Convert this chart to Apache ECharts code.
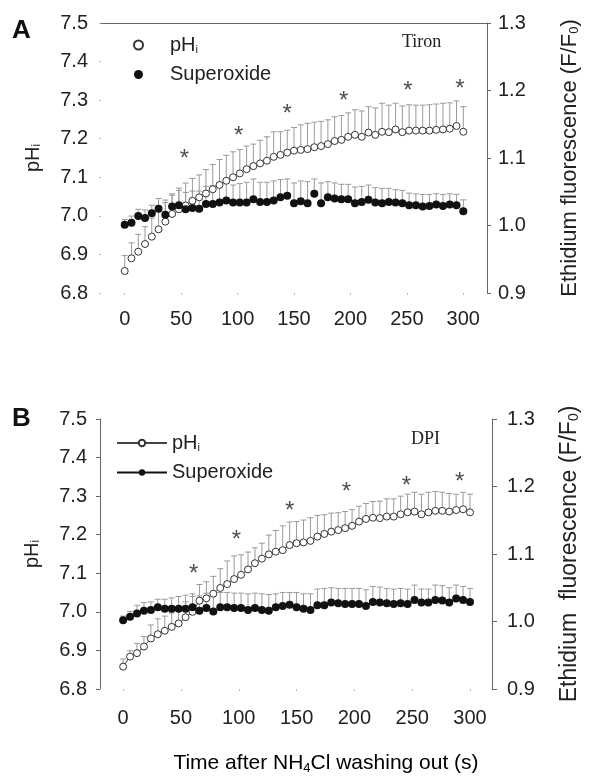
<!DOCTYPE html>
<html><head><meta charset="utf-8">
<script src="https://cdn.jsdelivr.net/npm/echarts@6/dist/echarts.min.js"></script>
<style>html,body{margin:0;padding:0;background:#fff}#c{width:589px;height:778px}</style>
</head><body><div id="c"></div>
<script>
// ---- data ----
const time = [0,6,12,18,24,30,36,42,48,54,60,66,72,78,84,90,96,102,108,114,120,126,132,138,144,150,156,162,168,174,180,186,192,198,204,210,216,222,228,234,240,246,252,258,264,270,276,282,288,294,300];
const xTicks = [0,50,100,150,200,250,300];
// Panel A (Tiron)
const phA = [6.857,6.890,6.907,6.927,6.946,6.965,6.985,7.005,7.017,7.027,7.039,7.048,7.058,7.069,7.080,7.091,7.100,7.110,7.121,7.129,7.136,7.143,7.153,7.158,7.164,7.169,7.171,7.173,7.178,7.181,7.186,7.194,7.197,7.205,7.210,7.205,7.216,7.210,7.218,7.217,7.224,7.217,7.221,7.221,7.221,7.221,7.223,7.224,7.226,7.233,7.218];
const phErrA = [0.040,0.040,0.045,0.045,0.048,0.050,0.056,0.052,0.055,0.058,0.058,0.058,0.062,0.064,0.066,0.066,0.066,0.062,0.060,0.057,0.060,0.062,0.065,0.060,0.058,0.060,0.065,0.067,0.065,0.064,0.063,0.063,0.063,0.062,0.065,0.067,0.067,0.070,0.074,0.070,0.068,0.068,0.067,0.066,0.066,0.067,0.067,0.068,0.067,0.065,0.065];
const supA = [1.001,1.004,1.014,1.011,1.018,1.025,1.016,1.028,1.030,1.024,1.026,1.025,1.032,1.032,1.034,1.037,1.034,1.034,1.034,1.039,1.035,1.035,1.037,1.042,1.044,1.033,1.036,1.033,1.047,1.033,1.042,1.040,1.039,1.039,1.033,1.035,1.038,1.034,1.033,1.035,1.034,1.033,1.030,1.030,1.028,1.029,1.031,1.029,1.031,1.030,1.021];
const supErrA = [0.008,0.010,0.010,0.012,0.012,0.015,0.018,0.017,0.022,0.025,0.025,0.026,0.026,0.027,0.027,0.028,0.026,0.028,0.030,0.030,0.029,0.029,0.029,0.026,0.025,0.030,0.030,0.032,0.022,0.030,0.023,0.023,0.022,0.022,0.024,0.023,0.022,0.022,0.022,0.020,0.019,0.019,0.018,0.017,0.018,0.017,0.016,0.017,0.016,0.016,0.017];
const starA = [[53,7.160],[101,7.220],[144,7.276],[194,7.309],[251,7.335],[297,7.342]];
// Panel B (DPI)
const phB = [6.858,6.884,6.893,6.910,6.931,6.942,6.951,6.961,6.970,6.986,7.000,7.029,7.035,7.047,7.062,7.072,7.085,7.096,7.110,7.126,7.138,7.149,7.156,7.160,7.173,7.178,7.180,7.184,7.195,7.202,7.208,7.212,7.217,7.223,7.234,7.241,7.244,7.243,7.247,7.247,7.253,7.258,7.260,7.253,7.258,7.262,7.262,7.260,7.264,7.266,7.258];
const phErrB = [0.020,0.015,0.025,0.026,0.035,0.040,0.038,0.036,0.038,0.040,0.040,0.042,0.043,0.045,0.050,0.060,0.060,0.052,0.045,0.040,0.040,0.050,0.055,0.063,0.060,0.056,0.058,0.060,0.055,0.050,0.048,0.045,0.043,0.042,0.040,0.040,0.042,0.044,0.046,0.046,0.047,0.047,0.050,0.052,0.052,0.050,0.048,0.047,0.041,0.044,0.047];
const supB = [1.002,1.007,1.012,1.016,1.017,1.021,1.019,1.019,1.019,1.019,1.021,1.016,1.020,1.015,1.021,1.021,1.020,1.020,1.017,1.020,1.017,1.016,1.021,1.023,1.025,1.021,1.019,1.017,1.024,1.024,1.028,1.027,1.026,1.026,1.026,1.023,1.029,1.028,1.027,1.026,1.027,1.026,1.032,1.028,1.028,1.032,1.031,1.028,1.034,1.032,1.029];
const supErrB = [0.006,0.008,0.012,0.012,0.012,0.012,0.014,0.016,0.018,0.020,0.020,0.022,0.022,0.024,0.022,0.022,0.022,0.022,0.024,0.022,0.024,0.024,0.020,0.020,0.018,0.022,0.022,0.024,0.024,0.025,0.022,0.022,0.023,0.023,0.023,0.024,0.023,0.023,0.022,0.022,0.022,0.022,0.022,0.020,0.020,0.022,0.022,0.022,0.020,0.020,0.020];
const starB = [[61,7.109],[98,7.199],[144,7.273],[193,7.322],[245,7.339],[291,7.348]];

// ---- chart ----
const FONT = 'Liberation Sans, Arial, sans-serif';
const zip = (ys, es) => time.map((t, i) => es ? [t, ys[i], es[i]] : [t, ys[i]]);
function errBar(params, api) {
  const x = api.value(0), y = api.value(1), e = api.value(2);
  const p0 = api.coord([x, y]), p1 = api.coord([x, y + e]);
  const st = {stroke: '#9a9a9a', lineWidth: 1};
  return {type: 'group', children: [
    {type: 'line', shape: {x1: p0[0], y1: p0[1], x2: p1[0], y2: p1[1]}, style: st},
    {type: 'line', shape: {x1: p1[0] - 3, y1: p1[1], x2: p1[0] + 3, y2: p1[1]}, style: st}
  ]};
}
const f1 = v => v.toFixed(1);
function richName(fs) {
  return {
    a: {fontSize: fs, fontFamily: FONT, color: '#222'},
    s: {fontSize: Math.round(fs * 0.6), fontFamily: FONT, color: '#222', verticalAlign: 'bottom', padding: [8, 0, 0, 0]}
  };
}
function xAx(gi, min, max, margin) {
  return {gridIndex: gi, type: 'value', min, max, position: 'bottom',
    axisLine: {show: false, onZero: false}, splitLine: {show: false},
    axisTick: {show: true, customValues: xTicks, length: 2, lineStyle: {color: '#bbb'}},
    axisLabel: {customValues: xTicks, fontSize: 20, fontFamily: FONT, color: '#222', margin}};
}
function yAx(gi, side, min, max, showLine, name, nameGap, labelMargin, tickColor, tickLen, nfs) {
  return {gridIndex: gi, type: 'value', position: side, min, max, interval: 0.1,
    axisLine: {show: showLine, onZero: false, lineStyle: {color: '#666', width: 1}},
    axisTick: {show: true, length: tickLen, lineStyle: {color: tickColor}},
    splitLine: {show: false},
    axisLabel: {formatter: f1, fontSize: 20, fontFamily: FONT, color: '#222', margin: labelMargin},
    name, nameLocation: 'middle', nameRotate: 90, nameGap,
    nameTextStyle: {rich: richName(nfs)}};
}
const legendRich = {rich: {a: {fontSize: 20, fontFamily: FONT, color: '#222'}, s: {fontSize: 11, fontFamily: FONT, color: '#222', verticalAlign: 'bottom', padding: [10, 0, 0, 0]}}};
const legFmt = n => n.indexOf('pH') === 0 ? '{a|pH}{s|i}' : '{a|Superoxide}';

const openStyle = {color: '#fff', borderColor: '#333', borderWidth: 1, opacity: 1};
const fillStyle = {color: '#111', opacity: 1};
const starLabel = {show: true, formatter: '*', position: 'inside', fontSize: 24, fontFamily: FONT, color: '#222', offset: [0, 5]};

const option = {
  animation: false,
  grid: [
    {left: 101, top: 23, width: 386, height: 270},
    {left: 100, top: 419, width: 395, height: 270}
  ],
  xAxis: [
    xAx(0, -21, 321, 16),
    {gridIndex: 0, type: 'value', min: -21, max: 321, position: 'top',
      axisLine: {show: true, onZero: false, lineStyle: {color: '#666'}}, axisTick: {show: false}, axisLabel: {show: false}, splitLine: {show: false}},
    xAx(1, -20, 319, 19)
  ],
  yAxis: [
    yAx(0, 'left', 6.8, 7.5, false, '{a|pH}{s|i}', 58, 13, '#bbb', 2, 20),
    yAx(0, 'right', 0.9, 1.3, true, '{a|Ethidium fluorescence (F/F}{s|0}{a|)}', 72, 11, '#666', 4, 22),
    yAx(1, 'left', 6.8, 7.5, true, '{a|pH}{s|i}', 58, 13, '#666', 4, 20),
    yAx(1, 'right', 0.9, 1.3, true, '{a|Ethidium  fluorescence (F/F}{s|0}{a|)}', 66, 15, '#666', 5, 23)
  ],
  legend: [
    {left: 128, top: 30, orient: 'vertical', itemGap: 9, itemWidth: 9, itemHeight: 9,
      data: [{name: 'pHi A', icon: 'circle'}, {name: 'Superoxide A', icon: 'circle'}],
      formatter: legFmt, textStyle: Object.assign({padding: [0, 0, 0, 22]}, legendRich)},
    {left: 111, top: 428, orient: 'vertical', itemGap: 9, itemWidth: 50, itemHeight: 8,
      data: ['pHi B', 'Superoxide B'],
      formatter: legFmt, textStyle: Object.assign({padding: [0, 0, 0, 0]}, legendRich)}
  ],
  series: [
    {type: 'custom', name: 'errA1', xAxisIndex: 0, yAxisIndex: 0, renderItem: errBar, data: zip(phA, phErrA), encode: {x: 0, y: 1}, z: 1, silent: true},
    {type: 'custom', name: 'errA2', xAxisIndex: 0, yAxisIndex: 1, renderItem: errBar, data: zip(supA, supErrA), encode: {x: 0, y: 1}, z: 1, silent: true},
    {type: 'scatter', name: 'pHi A', xAxisIndex: 0, yAxisIndex: 0, data: zip(phA), symbol: 'circle', symbolSize: 7, itemStyle: openStyle, z: 3},
    {type: 'scatter', name: 'Superoxide A', xAxisIndex: 0, yAxisIndex: 1, data: zip(supA), symbol: 'circle', symbolSize: 8, itemStyle: fillStyle, z: 4},
    {type: 'scatter', name: 'starsA', xAxisIndex: 0, yAxisIndex: 0, data: starA, symbolSize: 0, label: starLabel},
    {type: 'custom', name: 'errB1', xAxisIndex: 2, yAxisIndex: 2, renderItem: errBar, data: zip(phB, phErrB), encode: {x: 0, y: 1}, z: 1, silent: true},
    {type: 'custom', name: 'errB2', xAxisIndex: 2, yAxisIndex: 3, renderItem: errBar, data: zip(supB, supErrB), encode: {x: 0, y: 1}, z: 1, silent: true},
    {type: 'line', name: 'pHi B', xAxisIndex: 2, yAxisIndex: 2, data: zip(phB), symbol: 'circle', symbolSize: 7, showSymbol: true,
      itemStyle: openStyle, lineStyle: {color: '#444', width: 1}, z: 3},
    {type: 'line', name: 'Superoxide B', xAxisIndex: 2, yAxisIndex: 3, data: zip(supB), symbol: 'circle', symbolSize: 8, showSymbol: true,
      itemStyle: fillStyle, lineStyle: {color: '#111', width: 1}, z: 4},
    {type: 'scatter', name: 'starsB', xAxisIndex: 2, yAxisIndex: 2, data: starB, symbolSize: 0, label: starLabel}
  ],
  graphic: [
    {type: 'text', left: 12, top: 18, style: {text: 'A', font: 'bold 26px ' + FONT, fill: '#111'}},
    {type: 'text', left: 12, top: 406, style: {text: 'B', font: 'bold 26px ' + FONT, fill: '#111'}},
    {type: 'text', left: 402, top: 33, style: {text: 'Tiron', font: '18px "Liberation Serif", "Times New Roman", serif', fill: '#222'}},
    {type: 'text', left: 411, top: 430, style: {text: 'DPI', font: '18px "Liberation Serif", "Times New Roman", serif', fill: '#222'}},
    {type: 'text', x: 326, y: 763, style: {
      text: '{a|Time after NH}{s|4}{a|Cl washing out (s)}', align: 'center', verticalAlign: 'middle',
      rich: {a: {fontSize: 21, fontFamily: FONT, color: '#222'}, s: {fontSize: 13, fontFamily: FONT, color: '#222', verticalAlign: 'bottom', padding: [10, 0, 0, 0]}}}}
  ]
};
const chart = echarts.init(document.getElementById('c'), null, {renderer: 'canvas'});
chart.setOption(option);
</script>
</body></html>
